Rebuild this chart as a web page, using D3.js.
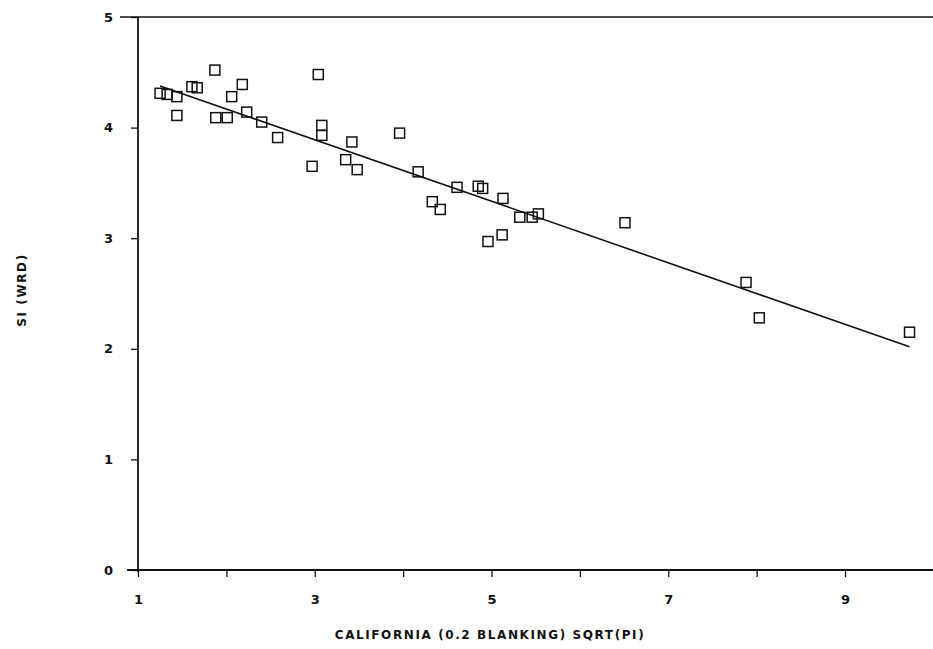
<!DOCTYPE html>
<html>
<head>
<meta charset="utf-8">
<script src="https://cdn.jsdelivr.net/npm/d3@7"></script>
<style>
  body { margin: 0; background: #fff; }
  svg { display: block; }
  text { font-family: "DejaVu Sans", "Liberation Sans", sans-serif; fill: #111; }
</style>
</head>
<body>
<svg id="chart" width="933" height="649"></svg>
<script>
// ---- data ----
const xValues = [1.25, 1.33, 1.44, 1.44, 1.61, 1.67, 1.87, 1.88, 2.01, 2.06,
                 2.18, 2.23, 2.40, 2.58, 2.97, 3.04, 3.08, 3.08, 3.35, 3.42,
                 3.48, 3.96, 4.17, 4.33, 4.42, 4.61, 4.85, 4.90, 4.96, 5.12,
                 5.13, 5.32, 5.46, 5.53, 6.51, 7.88, 8.03, 9.73];
const yValues = [4.31, 4.30, 4.28, 4.11, 4.37, 4.36, 4.52, 4.09, 4.09, 4.28,
                 4.39, 4.14, 4.05, 3.91, 3.65, 4.48, 4.02, 3.93, 3.71, 3.87,
                 3.62, 3.95, 3.60, 3.33, 3.26, 3.46, 3.47, 3.45, 2.97, 3.03,
                 3.36, 3.19, 3.19, 3.22, 3.14, 2.60, 2.28, 2.15];
const fitX = [1.25, 9.73];
const fitY = [4.377, 2.018];
const xTicks = [1, 2, 3, 4, 5, 6, 7, 8, 9];
const xTickLabels = ["1", "", "3", "", "5", "", "7", "", "9"];
const yTicks = [0, 1, 2, 3, 4, 5];
const yTickLabels = ["0", "1", "2", "3", "4", "5"];
const xTitle = "CALIFORNIA (0.2 BLANKING) SQRT(PI)";
const yTitle = "SI (WRD)";

// ---- drawing ----
const svg = d3.select("#chart");
const x = d3.scaleLinear().domain([1, 10]).range([138, 933.4]);
const y = d3.scaleLinear().domain([0, 5]).range([570, 17]);

const ink = "#111";

// x axis
const xAxis = d3.axisBottom(x).tickValues(xTicks)
  .tickFormat((d, i) => xTickLabels[i]).tickSize(7).tickPadding(18);
const gx = svg.append("g").attr("transform", `translate(0,${y(0)})`).call(xAxis);
gx.select(".domain").remove();
gx.selectAll("line").attr("stroke", ink).attr("stroke-width", 1.3);
gx.selectAll("text").attr("font-size", 13).attr("font-weight", "bold").attr("fill", ink);
gx.append("line").attr("x1", 127).attr("x2", 933).attr("y1", 0).attr("y2", 0)
  .attr("stroke", ink).attr("stroke-width", 1.8);

// y axis
const yAxis = d3.axisLeft(y).tickValues(yTicks)
  .tickFormat((d, i) => yTickLabels[i]).tickSize(7).tickPadding(18);
const gy = svg.append("g").attr("transform", `translate(${x(1)},0)`).call(yAxis);
gy.select(".domain").remove();
gy.selectAll("line").attr("stroke", ink).attr("stroke-width", 1.3);
gy.selectAll("text").attr("font-size", 13).attr("font-weight", "bold").attr("fill", ink);
gy.append("line").attr("x1", 0).attr("x2", 0).attr("y1", y(5)).attr("y2", y(0) + 2)
  .attr("stroke", ink).attr("stroke-width", 1.8);

// top frame line
svg.append("line").attr("x1", 120).attr("x2", 933).attr("y1", y(5)).attr("y2", y(5))
  .attr("stroke", ink).attr("stroke-width", 1.5);

// axis titles
svg.append("text").attr("x", 490).attr("y", 639).attr("text-anchor", "middle")
  .attr("font-size", 12).attr("font-weight", "bold").attr("letter-spacing", 1.6).text(xTitle);
svg.append("text").attr("transform", "translate(26,290) rotate(-90)")
  .attr("text-anchor", "middle").attr("font-size", 12).attr("font-weight", "bold")
  .attr("letter-spacing", 1.6).text(yTitle);

// regression line
svg.append("line")
  .attr("x1", x(fitX[0])).attr("y1", y(fitY[0]))
  .attr("x2", x(fitX[1])).attr("y2", y(fitY[1]))
  .attr("stroke", ink).attr("stroke-width", 1.6);

// points
const pts = xValues.map((v, i) => ({ x: v, y: yValues[i] }));
const s = 10;
svg.append("g").selectAll("rect").data(pts).join("rect")
  .attr("x", d => x(d.x) - s / 2).attr("y", d => y(d.y) - s / 2)
  .attr("width", s).attr("height", s)
  .attr("fill", "none").attr("stroke", ink).attr("stroke-width", 1.5);
</script>
</body>
</html>
